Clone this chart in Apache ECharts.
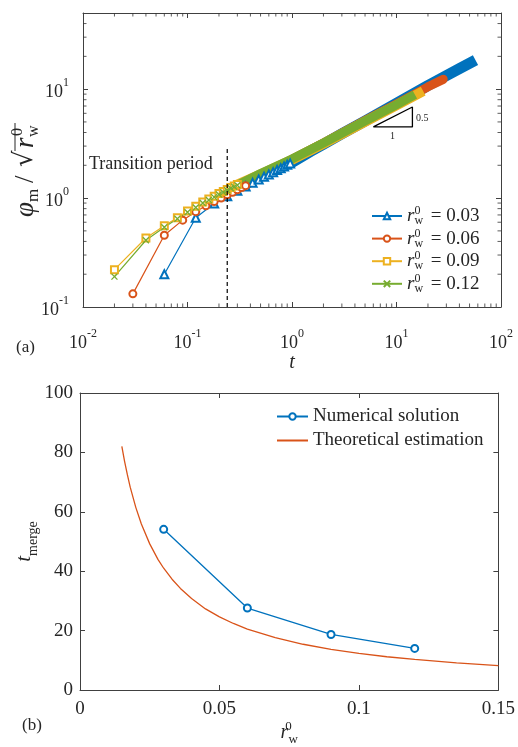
<!DOCTYPE html>
<html>
<head>
<meta charset="utf-8">
<script src="https://cdn.jsdelivr.net/npm/echarts@6/dist/echarts.min.js"></script>
<style>
html,body{margin:0;padding:0;background:#fff;}
#main{width:518px;height:747px;}
</style>
</head>
<body>
<div id="main"></div>
<script>
var FONT = 'Liberation Serif';
var AX = '#404040';
var TXT = '#262626';
var colors = ['#0072BD', '#D95319', '#EDB120', '#77AC30'];

// (a) 过渡期的离散点
var tBlue = [0.06, 0.12, 0.18, 0.24, 0.30, 0.36, 0.42, 0.48, 0.54, 0.60, 0.66, 0.72, 0.78, 0.84, 0.90, 0.96];
var phiBlue = [0.20, 0.66, 0.89, 1.04, 1.17, 1.28, 1.38, 1.48, 1.57, 1.65, 1.73, 1.81, 1.88, 1.95, 2.02, 2.08];
var tRed = [0.03, 0.06, 0.09, 0.12, 0.15, 0.18, 0.21, 0.24, 0.27, 0.30, 0.33, 0.36];
var phiRed = [0.132, 0.456, 0.627, 0.75, 0.85, 0.93, 1.00, 1.07, 1.13, 1.19, 1.25, 1.30];
var tYellow = [0.02, 0.04, 0.06, 0.08, 0.10, 0.12, 0.14, 0.16, 0.18, 0.20, 0.22, 0.24, 0.26, 0.28, 0.30];
var phiYellow = [0.22, 0.43, 0.556, 0.66, 0.76, 0.84, 0.92, 0.98, 1.04, 1.10, 1.15, 1.20, 1.25, 1.29, 1.33];
var tGreen = [0.02, 0.04, 0.06, 0.08, 0.10, 0.12, 0.14, 0.16, 0.18, 0.20, 0.22, 0.24, 0.26, 0.28, 0.30];
var phiGreen = [0.19, 0.41, 0.54, 0.645, 0.74, 0.82, 0.90, 0.96, 1.02, 1.08, 1.13, 1.18, 1.23, 1.27, 1.31];

// (a) 后期密集点形成的粗带
var tBlueBand = [0.96, 1.5, 2, 3, 5, 10, 20, 40, 57];
var phiBlueBand = [2.08, 2.68, 3.12, 3.9, 5.1, 7.4, 10.8, 15.4, 18.5];
var tRedBand = [0.36, 0.5, 1, 2, 5, 10, 20, 28];
var phiRedBand = [1.30, 1.6, 2.27, 3.2, 5.15, 7.3, 10.5, 12.3];
var tYellowBand = [0.30, 0.5, 1, 2, 5, 10, 18];
var phiYellowBand = [1.33, 1.65, 2.24, 3.15, 5.02, 7.1, 9.6];
var tGreenBand = [0.30, 0.5, 1, 2, 5, 10, 15];
var phiGreenBand = [1.31, 1.68, 2.28, 3.2, 5.1, 7.2, 8.9];

var rLabels = ['0.03', '0.06', '0.09', '0.12'];
var transitionT = [0.24, 0.24];
var transitionPhi = [0.1, 2.9];
var slopeT = [6.0, 14.2, 14.2, 6.0];
var slopePhi = [4.5, 4.5, 6.85, 4.5];

// (b)
var rNum = [0.03, 0.06, 0.09, 0.12];
var tMergeNum = [54.1, 27.6, 18.7, 14.0];
var rTheory = [0.015, 0.016, 0.017, 0.018, 0.02, 0.022, 0.025, 0.028, 0.03, 0.033, 0.036, 0.04, 0.045, 0.05, 0.055, 0.06, 0.07, 0.08, 0.09, 0.1, 0.11, 0.12, 0.135, 0.15];
var tMergeTheory = [82, 76.9, 72.4, 68.3, 61.5, 55.9, 49.2, 43.9, 41, 37.3, 34.2, 30.8, 27.3, 24.6, 22.4, 20.5, 17.6, 15.4, 13.7, 12.3, 11.2, 10.3, 9.1, 8.2];

var minorMult = [2, 3, 4, 5, 6, 7, 8, 9];
var xDecades = [0.01, 0.1, 1, 10];
var yDecades = [0.1, 1, 10];

function zip(a, b) {
	var out = [];
	for (var i = 0; i < a.length; i++) out.push([a[i], b[i]]);
	return out;
}

// 对数轴次刻度位置
var xMinorBottom = [], xMinorTop = [], yMinorLeft = [], yMinorRight = [];
xDecades.forEach(function (d) {
	minorMult.forEach(function (m) {
		xMinorBottom.push([m * d, 0.1]);
		xMinorTop.push([m * d, 50]);
	});
});
yDecades.forEach(function (d) {
	minorMult.forEach(function (m) {
		if (m * d < 50) {
			yMinorLeft.push([0.01, m * d]);
			yMinorRight.push([100, m * d]);
		}
	});
});

function logLabel(value) {
	var e = Math.log10(value);
	var r = Math.round(e);
	if (Math.abs(e - r) > 1e-6) return '';
	return '{b|10}{s|' + r + '}';
}
var logRich = {
	b: {fontFamily: FONT, fontSize: 18, color: TXT, lineHeight: 24, verticalAlign: 'bottom'},
	s: {fontFamily: FONT, fontSize: 12, color: TXT, lineHeight: 14, verticalAlign: 'top'}
};

function baseAxis(extra) {
	var o = {
		axisLine: {show: true, onZero: false, lineStyle: {color: AX, width: 1}},
		axisTick: {show: true, inside: true, length: 5, lineStyle: {color: AX, width: 1}},
		splitLine: {show: false},
		axisLabel: {color: TXT, fontFamily: FONT, fontSize: 19}
	};
	for (var k in extra) o[k] = extra[k];
	return o;
}

var chart = echarts.init(document.getElementById('main'));

var symX = 'path://M0,0L10,10M10,0L0,10';

function markerSeries(name, t, phi, color, symbol, size) {
	return {
		name: name, type: 'line', xAxisIndex: 0, yAxisIndex: 0,
		data: zip(t, phi), symbol: symbol, symbolSize: size, showSymbol: true,
		lineStyle: {color: color, width: 1.2},
		itemStyle: {color: symbol === symX ? 'rgba(0,0,0,0)' : color, borderColor: color, borderWidth: 1.3},
		z: 3
	};
}
function bandSeries(name, t, phi, color, width, cap) {
	return {
		name: name, type: 'line', xAxisIndex: 0, yAxisIndex: 0,
		data: zip(t, phi), showSymbol: false, symbol: 'none',
		lineStyle: {color: color, width: width, cap: cap, join: 'round'},
		z: 3
	};
}
function minorSeries(data, size, offset) {
	return {
		type: 'scatter', xAxisIndex: 0, yAxisIndex: 0, silent: true, clip: false,
		data: data, symbol: 'rect', symbolSize: size, symbolOffset: offset,
		itemStyle: {color: '#333'}, z: 10
	};
}

var yLabelPart = function (text, x, y, size, italic, family) {
	return {type: 'text', x: x, y: y, style: {
		text: text, fontFamily: family || FONT, fontSize: size,
		fontStyle: italic ? 'italic' : 'normal', fill: TXT, verticalAlign: 'bottom'
	}};
};

var option = {
	animation: false,
	backgroundColor: '#fff',
	grid: [
		{left: 83, top: 13, width: 418, height: 294},
		{left: 80, top: 393, width: 420, height: 300}
	],
	xAxis: [
		baseAxis({type: 'log', gridIndex: 0, min: 0.01, max: 100, logBase: 10,
			axisLabel: {formatter: logLabel, rich: logRich, margin: 21},
			name: 't', nameLocation: 'middle', nameGap: 38,
			nameTextStyle: {fontFamily: FONT, fontStyle: 'italic', fontSize: 20, color: TXT}}),
		baseAxis({type: 'log', gridIndex: 0, min: 0.01, max: 100, position: 'top', axisLabel: {show: false}}),
		baseAxis({type: 'value', gridIndex: 1, min: 0, max: 0.15, interval: 0.05,
			axisLabel: {margin: 10, color: TXT, fontFamily: FONT, fontSize: 19},
			name: '{i|r}{sp|0}{sb|w}', nameLocation: 'middle', nameGap: 30,
			nameTextStyle: {rich: {
				i: {fontFamily: FONT, fontStyle: 'italic', fontSize: 20, color: TXT, lineHeight: 26, verticalAlign: 'middle'},
				sp: {fontFamily: FONT, fontSize: 13, color: TXT, lineHeight: 13, verticalAlign: 'top', width: 0},
				sb: {fontFamily: FONT, fontSize: 13, color: TXT, lineHeight: 13, verticalAlign: 'bottom'}
			}}}),
		baseAxis({type: 'value', gridIndex: 1, min: 0, max: 0.15, interval: 0.05, position: 'top', axisLabel: {show: false}})
	],
	yAxis: [
		baseAxis({type: 'log', gridIndex: 0, min: 0.1, max: 50, logBase: 10,
			axisLabel: {formatter: logLabel, rich: logRich, margin: 14}}),
		baseAxis({type: 'log', gridIndex: 0, min: 0.1, max: 50, position: 'right', axisLabel: {show: false}}),
		baseAxis({type: 'value', gridIndex: 1, min: 0, max: 100, interval: 20,
			axisLabel: {margin: 7, color: TXT, fontFamily: FONT, fontSize: 19},
			name: '{i|t}{sb|merge}', nameLocation: 'middle', nameGap: 40, nameRotate: 90,
			nameMoveOverlap: false,
			nameTextStyle: {rich: {
				i: {fontFamily: FONT, fontStyle: 'italic', fontSize: 21, color: TXT, lineHeight: 26, verticalAlign: 'top'},
				sb: {fontFamily: FONT, fontSize: 14, color: TXT, lineHeight: 14, verticalAlign: 'bottom'}
			}}}),
		baseAxis({type: 'value', gridIndex: 1, min: 0, max: 100, interval: 20, position: 'right', axisLabel: {show: false}})
	],
	legend: [
		{
			data: rLabels, orient: 'vertical', left: 366, top: 200,
			itemWidth: 30, itemHeight: 8, itemGap: 0.6,
			formatter: function (name) { return '{i|r}{sp|0}{sb|w}{n| = ' + name + '}'; },
			textStyle: {rich: {
				i: {fontFamily: FONT, fontStyle: 'italic', fontSize: 19, color: TXT, lineHeight: 22, verticalAlign: 'middle'},
				sp: {fontFamily: FONT, fontSize: 12, color: TXT, lineHeight: 11, verticalAlign: 'top', width: 0},
				sb: {fontFamily: FONT, fontSize: 12, color: TXT, lineHeight: 11, verticalAlign: 'bottom', padding: [0, 3, 0, 0]},
				n: {fontFamily: FONT, fontSize: 19, color: TXT, lineHeight: 22, verticalAlign: 'middle'}
			}}
		},
		{
			data: ['Numerical solution', {name: 'Theoretical estimation', itemStyle: {opacity: 0}}],
			orient: 'vertical', left: 271, top: 402,
			itemWidth: 31, itemHeight: 8, itemGap: 5,
			textStyle: {fontFamily: FONT, fontSize: 19, color: TXT}
		}
	],
	graphic: [
		{type: 'text', left: 89, top: 155, style: {text: 'Transition period', fontFamily: FONT, fontSize: 18, fill: TXT}},
		{type: 'text', left: 416, top: 113, style: {text: '0.5', fontFamily: FONT, fontSize: 10, fill: TXT}},
		{type: 'text', left: 390, top: 131, style: {text: '1', fontFamily: FONT, fontSize: 10, fill: TXT}},
		{type: 'text', left: 16, top: 339, style: {text: '(a)', fontFamily: FONT, fontSize: 17, fill: TXT}},
		{type: 'text', left: 22, top: 717, style: {text: '(b)', fontFamily: FONT, fontSize: 17, fill: TXT}},
		{
			// 纵轴标题 φm / √(rw0)，逐个符号排布后整体旋转
			type: 'group', x: 33, y: 217, rotation: Math.PI / 2,
			children: [
				yLabelPart('φ', 0, 6, 27, true),
				yLabelPart('m', 15, 9, 17, false),
				yLabelPart('/', 34, 6, 27, false),
				yLabelPart('√', 50, 5, 26, false, 'DejaVu Serif'),
				yLabelPart('r', 69, 6, 27, true),
				yLabelPart('0', 81, -7, 16, false),
				yLabelPart('w', 80, 9, 16, false),
				{type: 'line', shape: {x1: 66, y1: -18, x2: 94, y2: -18}, style: {stroke: TXT, lineWidth: 1}}
			]
		}
	],
	series: [
		markerSeries('0.03', tBlue, phiBlue, colors[0], 'emptyTriangle', 8),
		bandSeries('0.03 band', tBlueBand, phiBlueBand, colors[0], 11, 'butt'),
		markerSeries('0.06', tRed, phiRed, colors[1], 'emptyCircle', 7),
		bandSeries('0.06 band', tRedBand, phiRedBand, colors[1], 9, 'round'),
		markerSeries('0.09', tYellow, phiYellow, colors[2], 'emptyRect', 7),
		bandSeries('0.09 band', tYellowBand, phiYellowBand, colors[2], 10, 'butt'),
		markerSeries('0.12', tGreen, phiGreen, colors[3], symX, 6),
		bandSeries('0.12 band', tGreenBand, phiGreenBand, colors[3], 9, 'butt'),
		{
			name: 'transition', type: 'line', xAxisIndex: 0, yAxisIndex: 0,
			data: zip(transitionT, transitionPhi), symbol: 'none',
			lineStyle: {color: '#000', width: 1.2, type: [4, 3]}, z: 4
		},
		{
			name: 'slope', type: 'line', xAxisIndex: 0, yAxisIndex: 0,
			data: zip(slopeT, slopePhi), symbol: 'none',
			lineStyle: {color: '#000', width: 1.3}, z: 4
		},
		minorSeries(xMinorBottom, [1, 3.5], [0, -1.75]),
		minorSeries(xMinorTop, [1, 3.5], [0, 1.75]),
		minorSeries(yMinorLeft, [3.5, 1], [1.75, 0]),
		minorSeries(yMinorRight, [3.5, 1], [-1.75, 0]),
		{
			name: 'Numerical solution', type: 'line', xAxisIndex: 2, yAxisIndex: 2,
			data: zip(rNum, tMergeNum), symbol: 'emptyCircle', symbolSize: 7,
			lineStyle: {color: colors[0], width: 1.3},
			itemStyle: {color: colors[0], borderColor: colors[0], borderWidth: 1.3}
		},
		{
			name: 'Theoretical estimation', type: 'line', xAxisIndex: 2, yAxisIndex: 2,
			data: zip(rTheory, tMergeTheory), symbol: 'none', showSymbol: false,
			lineStyle: {color: colors[1], width: 1.3},
			itemStyle: {color: colors[1]}
		}
	]
};

chart.setOption(option);
window.addEventListener('resize', function () {
	chart.resize();
});
</script>
</body>
</html>
